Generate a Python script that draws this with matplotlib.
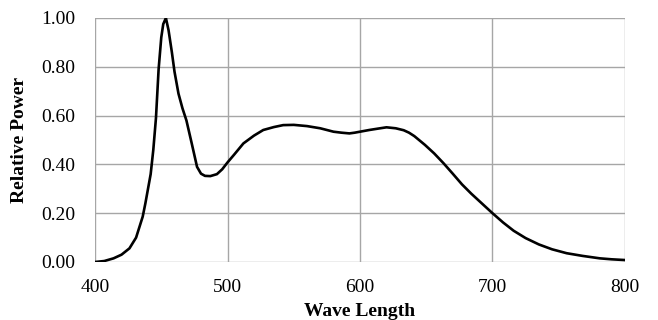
import numpy as np
import matplotlib.pyplot as plt

# spectrum (nm, relative power)
wavelength = [400, 407, 414, 420, 426, 431, 436, 438, 440, 442, 444, 446, 448, 450,
              451.5, 453.5, 455.5, 458, 460, 463, 466, 469, 473, 477, 480, 483, 487, 492,
              496, 500, 505, 512, 520, 527, 535, 542, 550, 560, 570, 580, 586, 592,
              596, 600, 607, 614, 620, 627, 633, 637, 641, 645, 649, 656, 663, 670,
              677, 684, 692, 700, 708, 716, 725, 735, 745, 756, 768, 781, 790, 800]
power = [0.000, 0.004, 0.015, 0.030, 0.056, 0.100, 0.186, 0.240, 0.300, 0.360, 0.460,
         0.590, 0.790, 0.920, 0.975, 1.000, 0.950, 0.860, 0.780, 0.690, 0.630, 0.580,
         0.486, 0.390, 0.362, 0.353, 0.352, 0.360, 0.380, 0.408, 0.440, 0.486, 0.518,
         0.541, 0.553, 0.561, 0.562, 0.557, 0.548, 0.534, 0.530, 0.527, 0.530, 0.534,
         0.541, 0.547, 0.552, 0.548, 0.540, 0.530, 0.516, 0.498, 0.480, 0.445, 0.405,
         0.362, 0.318, 0.280, 0.240, 0.200, 0.162, 0.128, 0.098, 0.072, 0.052, 0.036,
         0.025, 0.015, 0.011, 0.008]

x_ticks = [400, 500, 600, 700, 800]
y_ticks = [0.0, 0.2, 0.4, 0.6, 0.8, 1.0]

plt.rcParams['font.family'] = ['Liberation Serif', 'DejaVu Serif']

fig = plt.figure(figsize=(6.58, 3.2), dpi=100)
ax = fig.add_axes([0.1444, 0.18125, 0.8054, 0.7625])

ax.plot(wavelength, power, color='black', linewidth=1.9, solid_joinstyle='round')

ax.set_xlim(400, 800)
ax.set_ylim(0, 1.0)
ax.set_xticks(x_ticks)
ax.set_yticks(y_ticks)
ax.set_yticklabels(['%.2f' % v for v in y_ticks])
ax.grid(True, color='#a6a6a6', linewidth=1.0)
ax.set_axisbelow(True)
for s in ax.spines.values():
    s.set_visible(False)
ax.tick_params(length=0, labelsize=14)
ax.tick_params(axis='x', pad=12)
ax.tick_params(axis='y', pad=14)

ax.set_xlabel('Wave Length', fontsize=14, fontweight='bold', labelpad=5)
ax.set_ylabel('Relative Power', fontsize=14, fontweight='bold', labelpad=10)

fig.savefig('out.png', dpi=100)
